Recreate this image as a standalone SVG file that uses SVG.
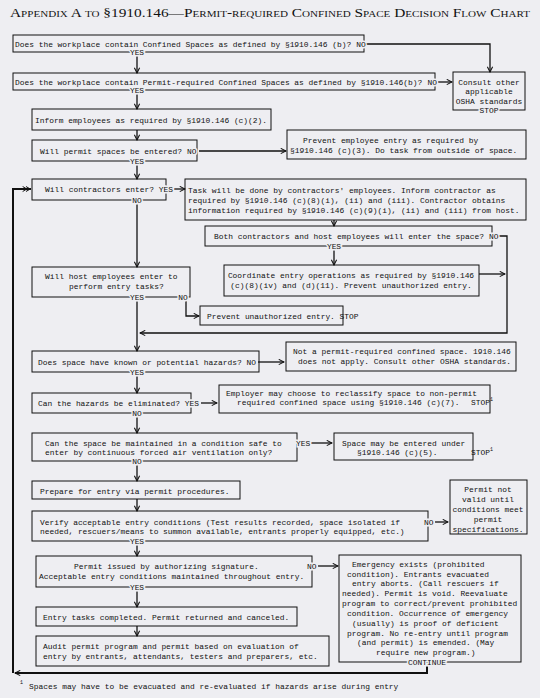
<svg xmlns="http://www.w3.org/2000/svg" width="540" height="698" viewBox="0 0 540 698">
<style>
.t{font-family:"Liberation Mono","DejaVu Sans Mono",monospace;font-size:7.9px;fill:#111}
.c{text-anchor:middle}
.l{stroke:#eeeef2;stroke-width:3px;paint-order:stroke}
.b{fill:none;stroke:#111;stroke-width:1}
.k{fill:none;stroke:#111;stroke-width:1.3}
.kk{fill:none;stroke:#111;stroke-width:2}
.s{font-family:"Liberation Mono",monospace;font-size:5px;fill:#111}
</style>
<defs>
<marker id="a" viewBox="0 0 8 8" refX="7" refY="4" markerWidth="7" markerHeight="7" markerUnits="userSpaceOnUse" orient="auto"><path d="M1,1 L7,4 L1,7" fill="none" stroke="#111" stroke-width="1.2"/></marker>
<marker id="a2" viewBox="0 0 12 8" refX="11" refY="4" markerWidth="10" markerHeight="7" markerUnits="userSpaceOnUse" orient="auto"><path d="M1,1 L6,4 L1,7 M5,1 L10,4 L5,7" fill="none" stroke="#111" stroke-width="1.2"/></marker>
</defs>
<rect width="540" height="698" fill="#eeeef2"/>
<text x="10" y="17" textLength="520" lengthAdjust="spacingAndGlyphs" style="font-family:'Liberation Serif',serif;font-size:12.5px;font-variant:small-caps;fill:#111">Appendix A to §1910.146—Permit-required Confined Space Decision Flow Chart</text>

<g id="connectors">
<path class="k" d="M366,44 H490 V72" marker-end="url(#a)"/>
<path class="k" d="M137,56 V73" marker-end="url(#a)"/>
<path class="k" d="M438,82 H452" marker-end="url(#a)"/>
<path class="k" d="M137,94 V109" marker-end="url(#a)"/>
<path class="k" d="M137,130 V140" marker-end="url(#a)"/>
<path class="k" d="M199,151 H286" marker-end="url(#a)"/>
<path class="k" d="M137,165 V179" marker-end="url(#a)"/>
<path class="k" d="M174,189 H185" marker-end="url(#a)"/>
<path class="k" d="M334,220 V226" marker-end="url(#a)"/>
<path class="k" d="M499,236 H507 V333 H140" marker-end="url(#a)"/>
<path class="k" d="M334,250 V265" marker-end="url(#a)"/>
<path class="k" d="M479,274 H505" marker-end="url(#a)"/>
<path class="k" d="M137,204 V267" marker-end="url(#a)"/>
<path class="k" d="M186,301 V316 H199" marker-end="url(#a)"/>
<path class="k" d="M137,301 V351" marker-end="url(#a)"/>
<path class="k" d="M258,362 H284" marker-end="url(#a)"/>
<path class="k" d="M137,376 V393" marker-end="url(#a)"/>
<path class="k" d="M201,403 H217" marker-end="url(#a)"/>
<path class="k" d="M137,417 V433" marker-end="url(#a)"/>
<path class="k" d="M311,443 H332" marker-end="url(#a)"/>
<path class="k" d="M137,465 V481" marker-end="url(#a)"/>
<path class="k" d="M137,499 V511" marker-end="url(#a)"/>
<path class="k" d="M435,522 H448" marker-end="url(#a)"/>
<path class="k" d="M137,545 V556" marker-end="url(#a)"/>
<path class="k" d="M318,566 H338" marker-end="url(#a)"/>
<path class="k" d="M137,591 V607" marker-end="url(#a)"/>
<path class="k" d="M137,626 V636" marker-end="url(#a)"/>
<path class="kk" d="M427,666 V673 H15" marker-end="url(#a)"/>
<path class="kk" d="M13,673 V189 H31" marker-end="url(#a2)"/>
</g>

<g id="n1"><rect class="b" x="13" y="35" width="351" height="17"/>
<text class="t" x="15" y="46.8">Does the workplace contain Confined Spaces as defined by §1910.146 (b)?</text>
<text class="t l" x="356.3" y="46.8">NO</text>
<text class="t c l" x="137" y="54.8">YES</text></g>

<g id="n2"><rect class="b" x="13" y="73" width="422" height="17"/>
<text class="t" x="15" y="84.8">Does the workplace contain Permit-required Confined Spaces as defined by §1910.146(b)?</text>
<text class="t l" x="427.4" y="84.8">NO</text>
<text class="t c l" x="137" y="92.8">YES</text></g>

<g id="consult"><rect class="b" x="453" y="72" width="72" height="38"/>
<text class="t c" x="489" y="84.8">Consult other</text>
<text class="t c" x="489" y="94.3">applicable</text>
<text class="t c" x="489" y="103.8">OSHA standards</text>
<text class="t c l" x="489" y="112.8">STOP</text></g>

<g id="n3"><rect class="b" x="32" y="109" width="239" height="21"/>
<text class="t" x="35" y="122.8">Inform employees as required by §1910.146 (c)(2).</text></g>

<g id="n4"><rect class="b" x="32" y="140" width="165" height="21"/>
<text class="t" x="40" y="153.8">Will permit spaces be entered?</text>
<text class="t l" x="187" y="153.8">NO</text>
<text class="t c l" x="137" y="163.8">YES</text></g>

<g id="n5"><rect class="b" x="287" y="130" width="239" height="29"/>
<text class="t" x="303" y="142.8">Prevent employee entry as required by</text>
<text class="t" x="290" y="152.8">§1910.146 (c)(3). Do task from outside of space.</text></g>

<g id="n6"><rect class="b" x="32" y="179" width="134" height="21"/>
<text class="t" x="45" y="191.8">Will contractors enter?</text>
<text class="t l" x="158.8" y="191.8">YES</text>
<text class="t c l" x="137" y="202.8">NO</text></g>

<g id="n7"><rect class="b" x="185" y="179" width="341" height="41"/>
<text class="t" x="188" y="192.8">Task will be done by contractors' employees. Inform contractor as</text>
<text class="t" x="188" y="202.8">required by §1910.146 (c)(8)(i), (ii) and (iii). Contractor obtains</text>
<text class="t" x="188" y="212.8">information required by §1910.146 (c)(9)(i), (ii) and (iii) from host.</text></g>

<g id="n8"><rect class="b" x="205" y="226" width="287" height="20"/>
<text class="t" x="214" y="238.8">Both contractors and host employees will enter the space?</text>
<text class="t l" x="488.9" y="238.8">NO</text>
<text class="t c l" x="334" y="248.8">YES</text></g>

<g id="n9"><rect class="b" x="224" y="265" width="255" height="31"/>
<text class="t c" x="351" y="277.8">Coordinate entry operations as required by §1910.146</text>
<text class="t c" x="351" y="287.8">(c)(8)(iv) and (d)(11). Prevent unauthorized entry.</text></g>

<g id="n10"><rect class="b" x="32" y="267" width="158" height="30"/>
<text class="t" x="45" y="278.8">Will host employees enter to</text>
<text class="t" x="69" y="288.8">perform entry tasks?</text>
<text class="t c l" x="137" y="299.8">YES</text>
<text class="t c l" x="183" y="299.8">NO</text></g>

<g id="n11"><rect class="b" x="200" y="306" width="143" height="19"/>
<text class="t" x="207" y="318.8">Prevent unauthorized entry. STOP</text></g>

<g id="n12"><rect class="b" x="32" y="351" width="227" height="21"/>
<text class="t" x="38" y="364.8">Does space have known or potential hazards?</text>
<text class="t l" x="246.6" y="364.8">NO</text>
<text class="t c l" x="137" y="374.8">YES</text></g>

<g id="n13"><rect class="b" x="286" y="342" width="230" height="29"/>
<text class="t" x="293" y="353.8">Not a permit-required confined space. 1910.146</text>
<text class="t" x="298" y="363.8">does not apply. Consult other OSHA standards.</text></g>

<g id="n14"><rect class="b" x="32" y="393" width="159" height="20"/>
<text class="t" x="38" y="405.8">Can the hazards be eliminated?</text>
<text class="t l" x="184.8" y="405.8">YES</text>
<text class="t c l" x="137" y="415.8">NO</text></g>

<g id="n15"><rect class="b" x="219" y="385" width="271" height="28"/>
<text class="t" x="226" y="395.8">Employer may choose to reclassify space to non-permit</text>
<text class="t" x="237" y="404.8">required confined space using §1910.146 (c)(7).</text>
<text class="t" x="471" y="404.8">STOP</text><text class="s" x="490" y="400.5">1</text></g>

<g id="n16"><rect class="b" x="32" y="433" width="265" height="28"/>
<text class="t" x="45" y="445.8">Can the space be maintained in a condition safe to</text>
<text class="t" x="45" y="454.8">enter by continuous forced air ventilation only?</text>
<text class="t l" x="296" y="445.8">YES</text>
<text class="t c l" x="137" y="463.8">NO</text></g>

<g id="n17"><rect class="b" x="334" y="433" width="139" height="27"/>
<text class="t" x="342" y="445.8">Space may be entered under</text>
<text class="t" x="357" y="454.8">§1910.146 (c)(5).</text>
<text class="t" x="471" y="454.8">STOP</text><text class="s" x="490" y="450.5">1</text></g>

<g id="n18"><rect class="b" x="32" y="481" width="208" height="18"/>
<text class="t" x="40" y="493.8">Prepare for entry via permit procedures.</text></g>

<g id="n19"><rect class="b" x="32" y="511" width="396" height="30"/>
<text class="t" x="40" y="524.8">Verify acceptable entry conditions (Test results recorded, space isolated if</text>
<text class="t" x="40" y="533.8">needed, rescuers/means to summon available, entrants properly equipped, etc.)</text>
<text class="t l" x="424" y="524.8">NO</text>
<text class="t c l" x="137" y="543.8">YES</text></g>

<g id="n20"><rect class="b" x="450" y="480" width="77" height="54"/>
<text class="t c" x="488" y="491.8">Permit not</text>
<text class="t c" x="488" y="501.8">valid until</text>
<text class="t c" x="488" y="511.8">conditions meet</text>
<text class="t c" x="488" y="521.8">permit</text>
<text class="t c" x="488" y="531.8">specifications.</text></g>

<g id="n21"><rect class="b" x="36" y="556" width="276" height="31"/>
<text class="t" x="74" y="568.8">Permit issued by authorizing signature.</text>
<text class="t" x="39" y="578.8">Acceptable entry conditions maintained throughout entry.</text>
<text class="t l" x="307" y="568.8">NO</text>
<text class="t c l" x="137" y="589.8">YES</text></g>

<g id="n22"><rect class="b" x="339" y="555" width="182" height="107"/>
<text class="t" x="352" y="566.8">Emergency exists (prohibited</text>
<text class="t" x="347" y="576.8">condition). Entrants evacuated</text>
<text class="t" x="352" y="585.8">entry aborts. (Call rescuers if</text>
<text class="t" x="342" y="595.8">needed). Permit is void. Reevaluate</text>
<text class="t" x="342" y="605.8">program to correct/prevent prohibited</text>
<text class="t" x="347" y="615.8">condition. Occurrence of emergency</text>
<text class="t" x="352" y="625.8">(usually) is proof of deficient</text>
<text class="t" x="347" y="635.8">program. No re-entry until program</text>
<text class="t" x="357" y="644.8">(and permit) is emended. (May</text>
<text class="t" x="376" y="654.8">require new program.)</text>
<text class="t l" x="408" y="664.8">CONTINUE</text></g>

<g id="n23"><rect class="b" x="36" y="607" width="261" height="19"/>
<text class="t" x="43" y="619.8">Entry tasks completed. Permit returned and canceled.</text></g>

<g id="n24"><rect class="b" x="36" y="636" width="293" height="30"/>
<text class="t" x="43" y="648.8">Audit permit program and permit based on evaluation of</text>
<text class="t" x="43" y="658.8">entry by entrants, attendants, testers and preparers, etc.</text></g>

<g id="footnote">
<text class="s" x="20" y="684">1</text>
<text class="t" x="29" y="688.5">Spaces may have to be evacuated and re-evaluated if hazards arise during entry</text>
</g>
</svg>
